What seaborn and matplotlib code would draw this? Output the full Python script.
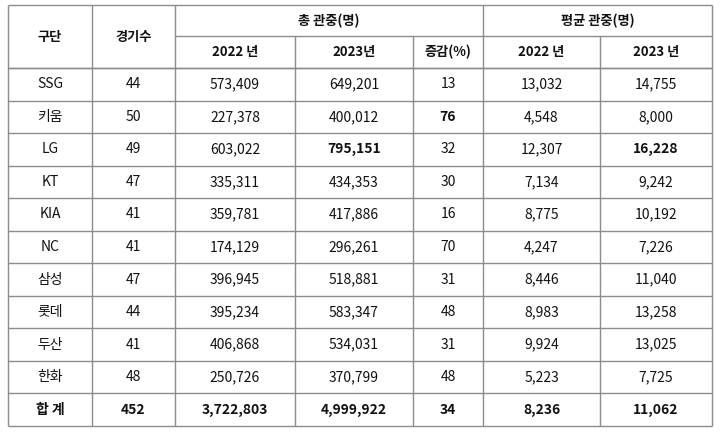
import matplotlib
matplotlib.use("Agg")
import matplotlib.pyplot as plt
from matplotlib import font_manager as fm
import seaborn as sns

teams = ["SSG", "키움", "LG", "KT", "KIA", "NC", "삼성", "롯데", "두산", "한화", "합 계"]
games = ["44", "50", "49", "47", "41", "41", "47", "44", "41", "48", "452"]
total_2022 = ["573,409", "227,378", "603,022", "335,311", "359,781", "174,129", "396,945", "395,234", "406,868", "250,726", "3,722,803"]
total_2023 = ["649,201", "400,012", "795,151", "434,353", "417,886", "296,261", "518,881", "583,347", "534,031", "370,799", "4,999,922"]
change_pct = ["13", "76", "32", "30", "16", "70", "31", "48", "31", "48", "34"]
avg_2022 = ["13,032", "4,548", "12,307", "7,134", "8,775", "4,247", "8,446", "8,983", "9,924", "5,223", "8,236"]
avg_2023 = ["14,755", "8,000", "16,228", "9,242", "10,192", "7,226", "11,040", "13,258", "13,025", "7,725", "11,062"]
bold_cells = {(1, 4), (2, 3), (2, 6)}

sns.set_theme(style="white")

fam = None
names = {f.name for f in fm.fontManager.ttflist}
for cand in ["Noto Sans CJK KR", "Noto Sans CJK JP", "Noto Sans CJK SC", "Noto Sans CJK TC"]:
    if cand in names:
        fam = cand
        break
if fam is None:
    for f in fm.findSystemFonts():
        if "CJK" in f or "cjk" in f.lower():
            try:
                fm.fontManager.addfont(f)
                fam = fm.FontProperties(fname=f).get_name()
                break
            except Exception:
                pass
plt.rcParams["font.family"] = [fam, "DejaVu Sans"] if fam else ["DejaVu Sans"]

fig = plt.figure(figsize=(7.21, 4.36), dpi=100)
ax = fig.add_axes([0, 0, 1, 1])
ax.set_xlim(0, 721)
ax.set_ylim(436, 0)
ax.axis("off")

xs = [8, 92, 175, 295, 413, 483, 600, 712]
top, mid, hb = 5, 36, 68
rh = (426 - hb) / 11
lc = "#8c8c8c"
lw = 1.0

ax.hlines([top, hb], xs[0], xs[-1], color=lc, lw=lw)
ax.hlines(mid, xs[2], xs[-1], color=lc, lw=lw)
for i in range(12):
    ax.hlines(hb + i * rh, xs[0], xs[-1], color=lc, lw=lw)
for i, x in enumerate(xs):
    y0 = mid if i in (3, 4, 6) else top
    ax.vlines(x, y0, hb + 11 * rh, color=lc, lw=lw)

hs = dict(ha="center", va="center", fontsize=9.5, fontweight="bold", color="#111")
ax.text((xs[0] + xs[1]) / 2, (top + hb) / 2, "구단", **hs)
ax.text((xs[1] + xs[2]) / 2, (top + hb) / 2, "경기수", **hs)
ax.text((xs[2] + xs[5]) / 2, (top + mid) / 2, "총 관중(명)", **hs)
ax.text((xs[5] + xs[7]) / 2, (top + mid) / 2, "평균 관중(명)", **hs)
for j, lab in enumerate(["2022 년", "2023년", "증감(%)", "2022 년", "2023 년"]):
    ax.text((xs[j + 2] + xs[j + 3]) / 2, (mid + hb) / 2, lab, **hs)

cols = [teams, games, total_2022, total_2023, change_pct, avg_2022, avg_2023]
for r in range(11):
    yc = hb + (r + 0.5) * rh
    for c, col in enumerate(cols):
        bold = r == 10 or (r, c) in bold_cells
        ax.text((xs[c] + xs[c + 1]) / 2, yc, col[r], ha="center", va="center",
                fontsize=10, fontweight="bold" if bold else "normal", color="#111")

fig.savefig("out.png", dpi=100, facecolor="white")
